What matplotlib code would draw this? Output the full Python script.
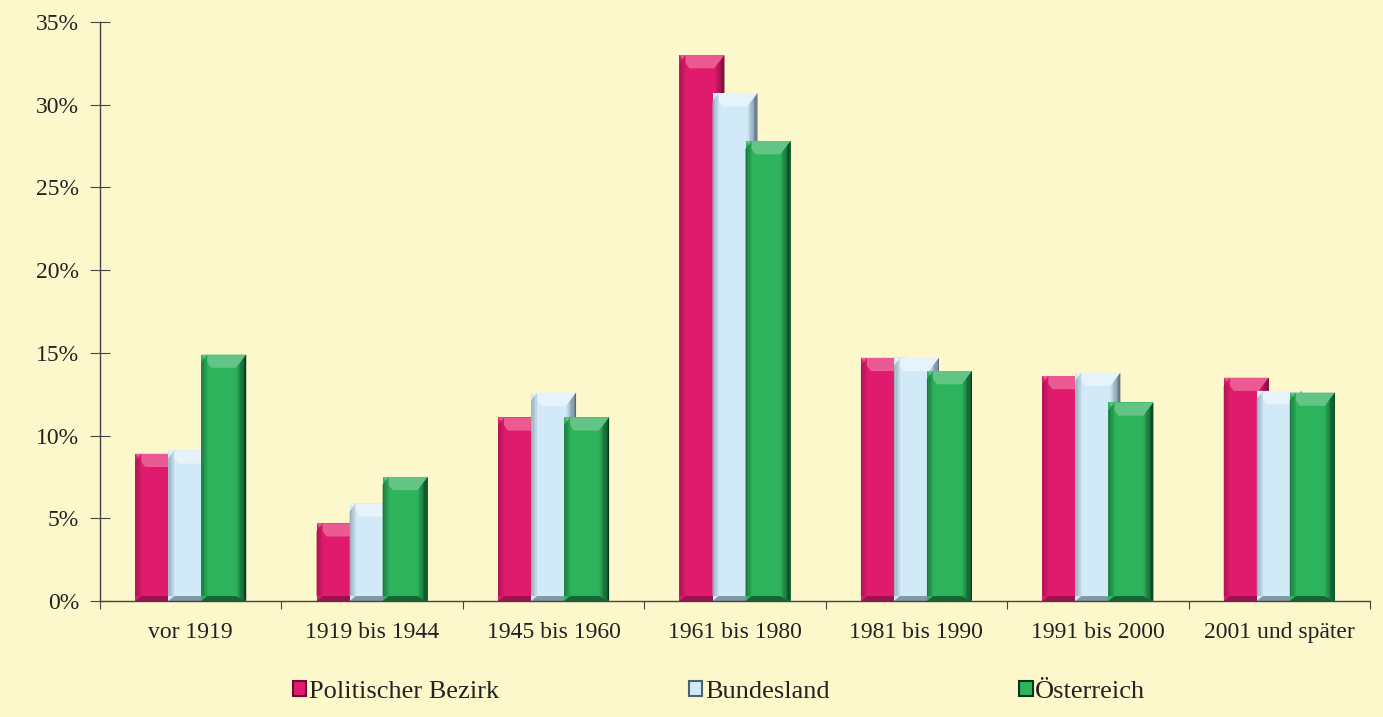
import matplotlib.pyplot as plt
import numpy as np
from matplotlib.patches import Polygon, Rectangle
from matplotlib.colors import to_rgb
from matplotlib.ticker import FuncFormatter

categories = ["vor 1919", "1919 bis 1944", "1945 bis 1960", "1961 bis 1980",
              "1981 bis 1990", "1991 bis 2000", "2001 und später"]
bezirk = [8.9, 4.7, 11.1, 33.0, 14.7, 13.6, 13.5]
bundesland = [9.1, 5.9, 12.6, 30.7, 14.7, 13.8, 12.7]
oesterreich = [14.9, 7.5, 11.1, 27.8, 13.9, 12.0, 12.6]
series_names = ["Politischer Bezirk", "Bundesland", "Österreich"]

bg = "#FDF7CC"
# (main, light top, dark side)
palette = [("#E01B6E", "#EC5A93", "#6E0C35"),
           ("#D2EAF7", "#E6F3FA", "#4E6272"),
           ("#2DB35C", "#62C585", "#06331A")]

plt.rcParams['font.family'] = ['Liberation Serif', 'DejaVu Serif']

fig = plt.figure(figsize=(13.83, 7.17), dpi=100, facecolor=bg)
ax = fig.add_axes([100/1383, 116/717, 1270/1383, 579/717])
ax.set_facecolor(bg)

w = 0.248
step = 0.182
bx = 0.055  # bevel in x (category units)
by = 0.8    # bevel in y (percent)


def mix(c1, c2, t):
    a, b = np.array(to_rgb(c1)), np.array(to_rgb(c2))
    return tuple(a + (b - a) * t)


def bevel_bar(x0, h, cols, z):
    main, light, dark = cols
    x1 = x0 + w
    yb = 0.3
    ax.add_patch(Rectangle((x0, 0), w, h, facecolor=main, edgecolor="none", zorder=z))
    # top bevel
    ax.add_patch(Polygon([(x0, h), (x1, h), (x1 - bx, h - by), (x0 + bx, h - by)],
                         closed=True, facecolor=light, edgecolor="none", zorder=z + 0.1))
    # right bevel, graded strips
    n = 8
    for k in range(n):
        xa = x1 - bx + bx * k / n
        xb = x1 - bx + bx * (k + 1) / n
        fa, fb = k / n, (k + 1) / n
        ax.add_patch(Polygon([(xa, h - by + by * fa), (xb, h - by + by * fb),
                              (xb, yb - yb * fb), (xa, yb - yb * fa)],
                             closed=True, facecolor=mix(main, dark, (k + 0.5) / n),
                             edgecolor="none", zorder=z + 0.2))
    # left bevel, lightly shaded
    for k in range(4):
        xa = x0 + bx * 0.6 * k / 4
        xb = x0 + bx * 0.6 * (k + 1) / 4
        ax.add_patch(Polygon([(xa, h - by * 0.6 * (1 - k / 4)), (xb, h - by * 0.6 * (1 - (k + 1) / 4)),
                              (xb, yb), (xa, yb)],
                             closed=True, facecolor=mix(main, dark, 0.45 - 0.1 * k),
                             edgecolor="none", zorder=z + 0.15))
    # bottom bevel
    ax.add_patch(Polygon([(x0, 0), (x1, 0), (x1 - bx, yb), (x0 + bx * 0.6, yb)],
                         closed=True, facecolor=mix(main, dark, 0.6), edgecolor="none",
                         zorder=z + 0.1))


for s, vals in enumerate([bezirk, bundesland, oesterreich]):
    for i, v in enumerate(vals):
        center = i + 0.5
        x0 = center - (step + w / 2) + s * step
        bevel_bar(x0, v, palette[s], 2 + s)

ax.set_xlim(0, len(categories))
ax.set_ylim(0, 35)
ax.set_yticks(range(0, 36, 5))
ax.yaxis.set_major_formatter(FuncFormatter(lambda v, p: f"{int(v)}%"))
ax.set_xticks(range(0, len(categories) + 1))
ax.set_xticklabels([])
ax.set_xticks([i + 0.5 for i in range(len(categories))], minor=True)
ax.set_xticklabels(categories, minor=True)
ax.tick_params(axis='x', which='minor', length=0, pad=15, labelsize=17, colors="#222222")
ax.tick_params(axis='x', which='major', direction='out', length=6, color="#444444")
ax.tick_params(axis='y', direction='inout', length=14, labelsize=17, pad=8,
               colors="#222222", color="#444444")

for sp in ["top", "right"]:
    ax.spines[sp].set_visible(False)
for sp in ["left", "bottom"]:
    ax.spines[sp].set_color("#444444")
    ax.spines[sp].set_linewidth(1.0)
    ax.spines[sp].set_zorder(10)

handles = [Rectangle((0, 0), 1, 1, facecolor=c[0], edgecolor=c[2], linewidth=1.5)
           for c in palette]
fig.legend(handles, series_names, loc="lower center", bbox_to_anchor=(0.52, -0.014),
           ncol=3, frameon=False, fontsize=19, handlelength=0.5, handleheight=0.5,
           handletextpad=0.1, columnspacing=7.2, labelcolor="#222222")

fig.savefig("out.png", dpi=100, facecolor=bg)
